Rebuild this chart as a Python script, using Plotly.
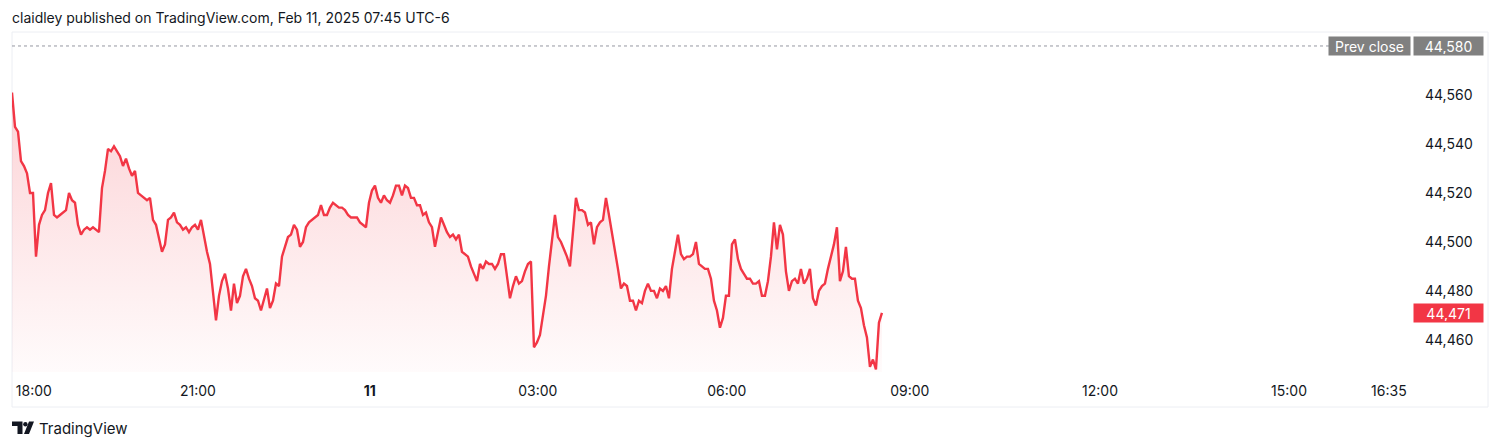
import plotly.graph_objects as go

# ---------------- data ----------------
# Dow futures, 1 bar per sample, Feb 10 17:55 -> Feb 11 ~08:30 (UTC-6)
prices = [
    44561, 44547, 44545, 44533, 44531, 44528, 44520, 44520, 44494, 44507,
    44511, 44513, 44520, 44524, 44511, 44510, 44511, 44512, 44513, 44520,
    44517, 44516, 44507, 44503, 44505, 44506, 44505, 44506, 44505, 44504,
    44522, 44529, 44538, 44537, 44539, 44537, 44535, 44531, 44534, 44530,
    44527, 44529, 44520, 44519, 44518, 44517, 44518, 44509, 44507, 44502,
    44496, 44499, 44509, 44510, 44512, 44508, 44507, 44505, 44506,
    44504, 44506, 44507, 44505, 44509, 44502, 44496, 44491, 44480, 44468,
    44478, 44484, 44487, 44481, 44472, 44483, 44475, 44478, 44486, 44489,
    44485, 44482, 44477, 44476, 44472, 44476, 44481, 44473, 44476, 44483,
    44482, 44494, 44498, 44502, 44503, 44507, 44505, 44498, 44500, 44506,
    44508, 44509, 44510, 44511, 44515, 44511, 44511, 44514, 44516, 44515,
    44514, 44514, 44513, 44511, 44510, 44510, 44510, 44508, 44507,
    44506, 44516, 44521, 44523, 44518, 44516, 44519, 44517, 44516, 44519,
    44523, 44523, 44519, 44523, 44522, 44518, 44518, 44515, 44515, 44511,
    44512, 44508, 44506, 44498, 44504, 44510, 44507, 44504, 44502, 44503,
    44501, 44503, 44496, 44495, 44494, 44490, 44487, 44484, 44491, 44489,
    44492, 44491, 44491, 44489, 44491, 44495, 44495, 44485, 44477, 44482,
    44486, 44483, 44484, 44488, 44491, 44492, 44457, 44459, 44462,
    44470, 44478, 44490, 44500, 44511, 44502, 44500, 44497, 44494, 44490,
    44503, 44518, 44513, 44513, 44512, 44507, 44508, 44499, 44506, 44508,
    44509, 44518, 44511, 44504, 44497, 44489, 44481, 44483, 44482, 44476,
    44476, 44472, 44476, 44475, 44480, 44483, 44480, 44480, 44477, 44481,
    44480, 44482, 44477, 44489, 44496, 44503, 44495, 44493, 44494, 44494,
    44495, 44500, 44491, 44490, 44489, 44489, 44485, 44476, 44472,
    44465, 44469, 44478, 44478, 44499, 44501, 44493, 44489, 44487, 44485,
    44485, 44483, 44483, 44484, 44478, 44478, 44484, 44494, 44508, 44497,
    44507, 44503, 44488, 44480, 44484, 44485, 44483, 44489, 44483, 44485,
    44489, 44477, 44474, 44480, 44482, 44483, 44489, 44494, 44499, 44506,
    44484, 44488, 44498, 44486, 44485, 44485, 44476, 44473, 44466, 44461,
    44449, 44452, 44448, 44467, 44471,
]
bar_index = list(range(len(prices)))

# time-axis labels and the bar at which each falls
tick_labels = ["18:00", "21:00", "<b>11</b>", "03:00", "06:00", "09:00", "12:00", "15:00", "16:35"]
tick_bars = [7.3, 62, 119.3, 175.3, 238.3, 299.3, 362.7, 425.7, 459]

price_ticks = [44460, 44480, 44500, 44520, 44540, 44560]
price_tick_labels = ["44,460", "44,480", "44,500", "44,520", "44,540", "44,560"]

prev_close = 44580
last_price = prices[-1]

x_range = [0, 466.7]
y_range = [44446.9, 44585.3]

title_text = "claidley published on TradingView.com, Feb 11, 2025 07:45 UTC-6"

# ---------------- layout geometry ----------------
W, H = 1500, 448
L, R, T, B = 12, 88, 33, 76
PW, PH = W - L - R, H - T - B


def px(x):
    return (x - L) / PW


def py(y):
    return (H - B - y) / PH


RED = "#F23645"
TXT = "#131722"
FONT = "Inter, Roboto, Arial, sans-serif"

fig = go.Figure()
fig.add_trace(go.Scatter(
    x=bar_index, y=prices, mode="lines",
    line=dict(color=RED, width=2.4),
    fill="tozeroy",
    fillgradient=dict(
        type="vertical",
        start=y_range[0], stop=max(prices),
        colorscale=[[0, "rgba(242,54,69,0.02)"], [1, "rgba(242,54,69,0.22)"]],
    ),
    hoverinfo="skip", showlegend=False,
))

shapes = [
    # pane border
    dict(type="rect", xref="paper", yref="paper",
         x0=px(12), x1=px(1488), y0=py(407), y1=py(32),
         line=dict(color="#eceef3", width=1), fillcolor="rgba(0,0,0,0)", layer="below"),
    # previous close dotted line
    dict(type="line", xref="paper", yref="y",
         x0=px(12), x1=px(1330), y0=prev_close, y1=prev_close,
         line=dict(color="#9598a1", width=1, dash="dot")),
    # TradingView logo
    dict(type="path", xref="paper", yref="paper", fillcolor=TXT, line=dict(width=0),
         path=(f"M {px(12)},{py(421.5)} L {px(22.5)},{py(421.5)} L {px(22.5)},{py(434)} "
               f"L {px(17.5)},{py(434)} L {px(17.5)},{py(426)} L {px(12)},{py(426)} Z")),
    dict(type="circle", xref="paper", yref="paper", fillcolor=TXT, line=dict(width=0),
         x0=px(23.2), x1=px(27.6), y0=py(426.4), y1=py(422)),
    dict(type="path", xref="paper", yref="paper", fillcolor=TXT, line=dict(width=0),
         path=(f"M {px(24)},{py(434)} L {px(29)},{py(434)} L {px(34)},{py(421.5)} "
               f"L {px(29)},{py(421.5)} Z")),
]

annotations = [
    dict(text="Prev close", xref="paper", yref="y", x=px(1411), y=prev_close,
         xanchor="right", yanchor="middle", showarrow=False,
         font=dict(family=FONT, size=14, color="#ffffff"),
         bgcolor="#808080", width=79, height=16, borderpad=1, align="center"),
    dict(text=f"{prev_close:,}", xref="paper", yref="y", x=px(1413), y=prev_close,
         xanchor="left", yanchor="middle", showarrow=False,
         font=dict(family=FONT, size=14, color="#ffffff"),
         bgcolor="#808080", width=67, height=16, borderpad=1, align="center"),
    dict(text=f"{last_price:,}", xref="paper", yref="y", x=px(1413), y=last_price,
         xanchor="left", yanchor="middle", showarrow=False,
         font=dict(family=FONT, size=14, color="#ffffff"),
         bgcolor=RED, width=67, height=16, borderpad=1, align="center"),
    dict(text="TradingView", xref="paper", yref="paper", x=px(37), y=py(428),
         xanchor="left", yanchor="middle", showarrow=False,
         font=dict(family=FONT, size=15, color=TXT)),
]

fig.update_layout(
    width=W, height=H,
    margin=dict(l=L, r=R, t=T, b=B),
    paper_bgcolor="#ffffff", plot_bgcolor="#ffffff",
    font=dict(family=FONT, color=TXT),
    title=dict(text=title_text, x=12 / W, xanchor="left", y=1 - 18 / H, yanchor="middle",
               font=dict(family=FONT, size=14, color=TXT)),
    xaxis=dict(range=x_range, tickvals=tick_bars, ticktext=tick_labels,
               showgrid=False, zeroline=False, showline=False, ticks="",
               ticklabelstandoff=9, tickfont=dict(family=FONT, size=14, color=TXT),
               fixedrange=True),
    yaxis=dict(range=y_range, side="right", tickvals=price_ticks, ticktext=price_tick_labels,
               showgrid=False, zeroline=False, showline=False, ticks="",
               ticklabelstandoff=12, tickfont=dict(family=FONT, size=14, color=TXT),
               fixedrange=True),
    shapes=shapes, annotations=annotations,
    hovermode=False,
)

fig.write_html("out.html", config={"displayModeBar": False},
               post_script="document.body.style.margin='0';")
